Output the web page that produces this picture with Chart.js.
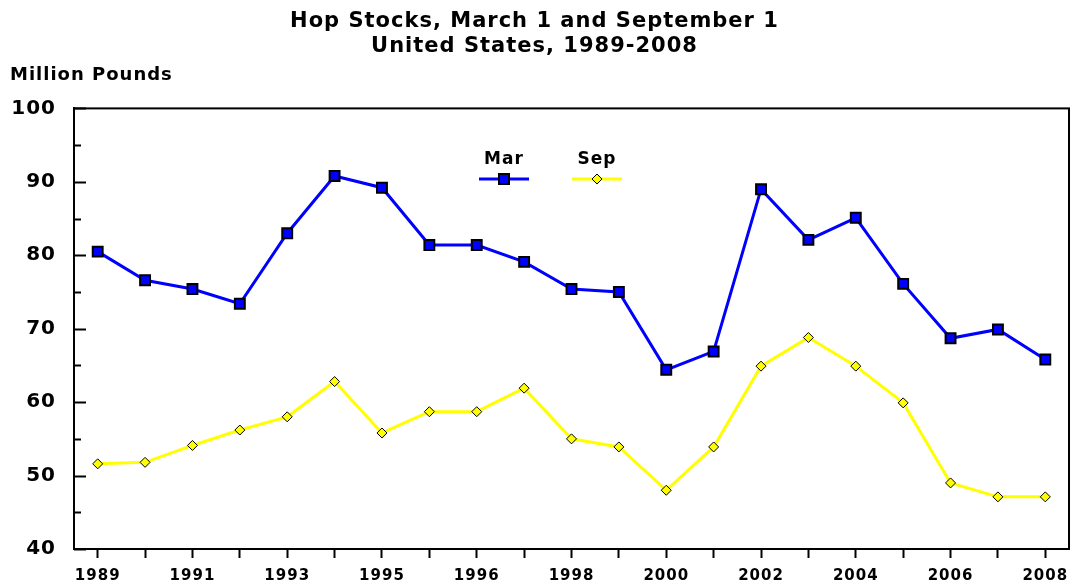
<!DOCTYPE html>
<html>
<head>
<meta charset="utf-8">
<title>Hop Stocks</title>
<script src="https://cdn.jsdelivr.net/npm/chart.js@4/dist/chart.umd.min.js"></script>
<style>
  html, body { margin: 0; padding: 0; background: #fff; }
  #chart { display: block; }
</style>
</head>
<body>
<canvas id="chart" width="1079" height="586"></canvas>
<script>
// categories (the source chart has 21 points, with an extra one after 1995)
const years = ['1989', '1990', '1991', '1992', '1993', '1994', '1995', '1995', '1996', '1997',
               '1998', '1999', '2000', '2001', '2002', '2003', '2004', '2005', '2006', '2007', '2008'];

// million pounds
const marStocks = [80.5, 76.6, 75.4, 73.4, 83.0, 90.8, 89.2, 81.4, 81.4, 79.1,
                   75.4, 75.0, 64.4, 66.9, 89.0, 82.1, 85.1, 76.1, 68.7, 69.9, 65.8];
const sepStocks = [51.6, 51.8, 54.1, 56.2, 58.0, 62.8, 55.8, 58.7, 58.7, 61.9,
                   55.0, 53.9, 48.0, 53.9, 64.9, 68.8, 64.9, 59.9, 49.0, 47.1, 47.1];

const yMin = 40;
const yMax = 100;
const yStep = 5;   // minor ticks every 5, labels every 10

const FONT = '"DejaVu Sans", Verdana, sans-serif';

Chart.defaults.color = '#000';
Chart.defaults.font.family = FONT;

// wider letter spacing like the original bitmap font
const spacingPlugin = {
    id: 'spacing',
    beforeDraw(chart) {
        chart.ctx.letterSpacing = '1px';
    }
};

function legendMarker(ctx, style, x, y) {
    ctx.beginPath();
    if (style === 'rect') {
        ctx.rect(x - 5, y - 5, 10, 10);
    } else {
        ctx.moveTo(x, y - 5);
        ctx.lineTo(x + 5, y);
        ctx.lineTo(x, y + 5);
        ctx.lineTo(x - 5, y);
        ctx.closePath();
    }
    ctx.fill();
    ctx.stroke();
}

// frame, inward y ticks, unit label and the legend above the lines
const decorPlugin = {
    id: 'decor',
    afterDraw(chart) {
        const ctx = chart.ctx;
        const area = chart.chartArea;
        const y = chart.scales.y;

        ctx.save();
        ctx.strokeStyle = '#000';
        ctx.lineWidth = 2;
        ctx.strokeRect(area.left, area.top, area.right - area.left, area.bottom - area.top);

        // inward tick marks on the value axis
        y.ticks.forEach(t => {
            const py = Math.round(y.getPixelForValue(t.value)) + 0.5;
            const len = t.value % 10 === 0 ? 12 : 7;
            ctx.beginPath();
            ctx.moveTo(area.left, py);
            ctx.lineTo(area.left + len, py);
            ctx.stroke();
        });

        // unit label
        ctx.fillStyle = '#000';
        ctx.font = 'bold 18px ' + FONT;
        ctx.letterSpacing = '1px';
        ctx.textAlign = 'left';
        ctx.textBaseline = 'alphabetic';
        ctx.fillText('Million Pounds', 10, 80);

        // legend: label on top, line sample with marker below
        const items = [
            { cx: 504, ds: chart.data.datasets[0] },
            { cx: 597, ds: chart.data.datasets[1] }
        ];
        items.forEach(it => {
            ctx.textAlign = 'center';
            ctx.font = 'bold 17px ' + FONT;
            ctx.fillStyle = '#000';
            ctx.fillText(it.ds.label, it.cx, 164);
            ctx.strokeStyle = it.ds.borderColor;
            ctx.lineWidth = it.ds.borderWidth;
            ctx.beginPath();
            ctx.moveTo(it.cx - 25, 179);
            ctx.lineTo(it.cx + 25, 179);
            ctx.stroke();
            ctx.fillStyle = it.ds.pointBackgroundColor;
            ctx.strokeStyle = it.ds.pointBorderColor;
            ctx.lineWidth = it.ds.pointBorderWidth;
            legendMarker(ctx, it.ds.pointStyle, it.cx, 179);
        });
        ctx.restore();
    }
};

new Chart(document.getElementById('chart'), {
    type: 'line',
    data: {
        labels: years,
        datasets: [
            {
                label: 'Mar',
                data: marStocks,
                borderColor: '#0000ff',
                borderWidth: 3,
                pointStyle: 'rect',
                pointRadius: 7,
                pointBackgroundColor: '#0000ff',
                pointBorderColor: '#000',
                pointBorderWidth: 2,
                tension: 0
            },
            {
                label: 'Sep',
                data: sepStocks,
                borderColor: '#ffff00',
                borderWidth: 3,
                pointStyle: 'rectRot',
                pointRadius: 5,
                pointBackgroundColor: '#ffff00',
                pointBorderColor: '#000',
                pointBorderWidth: 1,
                tension: 0
            }
        ]
    },
    options: {
        responsive: false,
        animation: false,
        devicePixelRatio: 1,
        layout: { padding: { left: 0, right: 10, top: 0, bottom: 0 } },
        plugins: {
            legend: { display: false },
            tooltip: { enabled: false },
            title: {
                display: true,
                text: ['Hop Stocks, March 1 and September 1', 'United States, 1989-2008'],
                font: { size: 21, weight: 'bold', lineHeight: 1.2 },
                color: '#000',
                padding: { top: 9, bottom: 49 }
            }
        },
        scales: {
            x: {
                offset: true,
                grid: {
                    offset: false,
                    drawOnChartArea: false,
                    drawTicks: true,
                    tickLength: 9,
                    tickWidth: 2,
                    tickColor: '#000'
                },
                border: { display: true, color: '#000', width: 2 },
                ticks: {
                    autoSkip: false,
                    maxRotation: 0,
                    padding: 9,
                    font: { size: 15, weight: 'bold' },
                    callback: (v, i) => (i % 2 === 0 ? years[i] : '')
                },
                afterFit: scale => { scale.height = 37; }
            },
            y: {
                min: yMin,
                max: yMax,
                grid: { drawOnChartArea: false, drawTicks: false },
                border: { display: true, color: '#000', width: 2 },
                ticks: {
                    stepSize: yStep,
                    padding: 18,
                    font: { size: 20, weight: 'bold' },
                    callback: v => (v % 10 === 0 ? v : '')
                },
                afterFit: scale => { scale.width = 74; }
            }
        }
    },
    plugins: [spacingPlugin, decorPlugin]
});
</script>
</body>
</html>
